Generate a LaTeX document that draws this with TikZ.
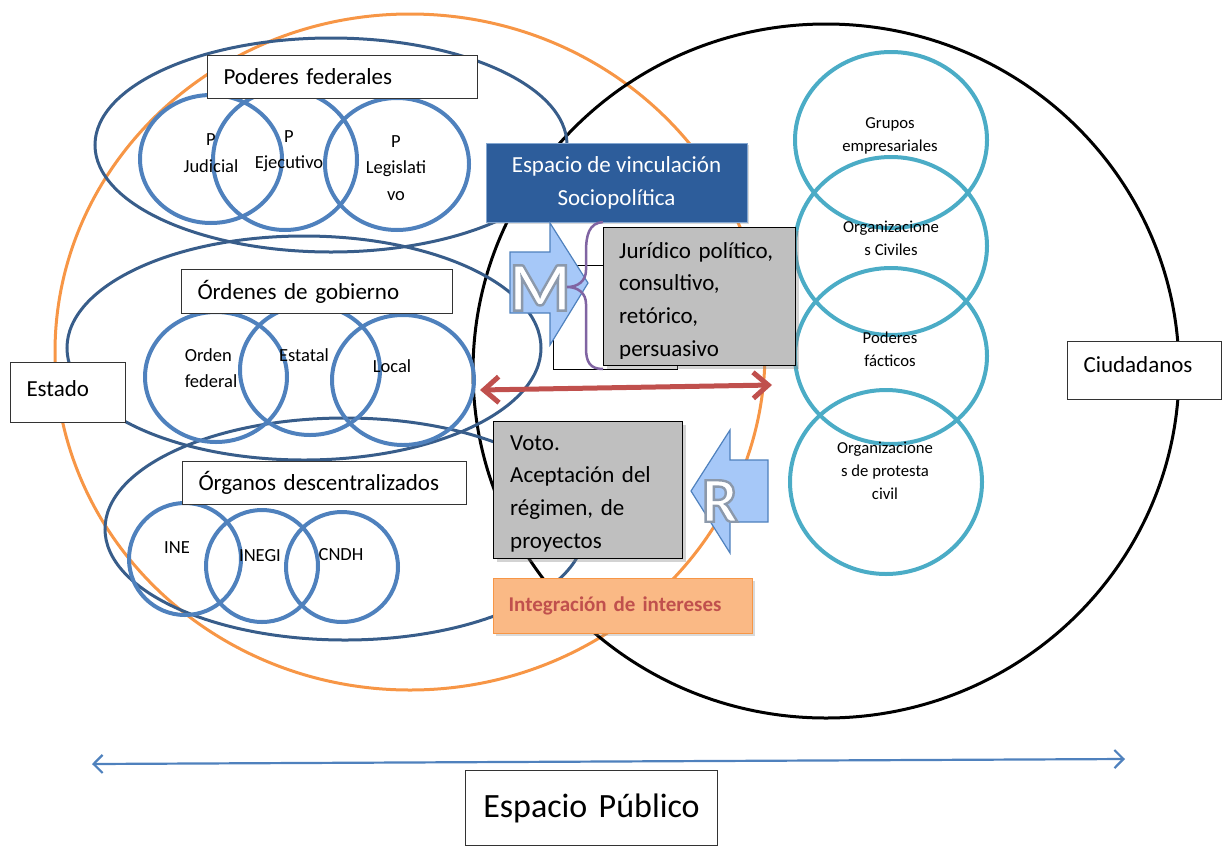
\documentclass[tikz,border=0pt]{standalone}
\usepackage{fontspec}
\setmainfont{Carlito}
\usetikzlibrary{arrows.meta,shadows}

\definecolor{ringorange}{HTML}{F79646}
\definecolor{groupblue}{HTML}{385D8A}
\definecolor{unitblue}{HTML}{4F81BD}
\definecolor{civcyan}{HTML}{4BACC6}
\definecolor{linkblue}{HTML}{2D5D9B}
\definecolor{boxgray}{HTML}{BFBFBF}
\definecolor{flowfill}{HTML}{A6C8F8}
\definecolor{flowred}{HTML}{C0504D}
\definecolor{bracepurple}{HTML}{8064A2}
\definecolor{mergefill}{HTML}{FAB985}

\newcommand\titlesize{\fontsize{23}{28}\selectfont}
\newcommand\unitsize{\fontsize{18.5}{26.5}\selectfont}
\newcommand\civsize{\fontsize{16.7}{23}\selectfont}
\newcommand\boxsize{\fontsize{23}{32.8}\selectfont}
\newcommand\publicsize{\fontsize{34}{40}\selectfont}
\newcommand\mergesize{\fontsize{21}{25}\selectfont\bfseries}
\newcommand\hollow[1]{{\color{white}\special{pdf:literal direct 2 Tr 2.4 w 0.55 0.6 0.67 RG}#1\special{pdf:literal direct 0 Tr 0.4 w}}}

\tikzset{
ring/.style={line width=3pt},
group/.style={draw=groupblue, line width=3pt},
unit/.style={draw=unitblue, line width=4pt},
civ/.style={draw=civcyan, line width=4pt},
titlebox/.style={draw=black!80, fill=white, line width=1pt, anchor=north west, inner xsep=16pt, inner ysep=0pt, align=left, font=\titlesize},
unittext/.style={inner sep=0pt, align=center, font=\unitsize},
civtext/.style={inner sep=0pt, align=center, font=\civsize},
graybox/.style={draw=black, fill=boxgray, line width=1pt, anchor=north west, inner sep=0pt, drop shadow={opacity=0.35, shadow xshift=3pt, shadow yshift=-3pt}},
boxtext/.style={anchor=base west, inner sep=0pt, align=left, text width=175pt, font=\boxsize},
linkbox/.style={fill=linkblue, draw=unitblue!70!white, line width=1pt, text=white, align=center, font=\boxsize, drop shadow={opacity=0.3, shadow xshift=2pt, shadow yshift=-2pt}},
flowarrow/.style={fill=flowfill, draw=unitblue, line width=1.2pt, line join=miter},
bigletter/.style={inner sep=0pt, font=\bfseries\fontsize{70}{70}\selectfont},
mergebox/.style={anchor=north west, fill=mergefill, draw=ringorange, line width=1.2pt, inner xsep=15pt, align=left, text=flowred, font=\mergesize, drop shadow={opacity=0.3, shadow xshift=2pt, shadow yshift=-2pt}}
}

\begin{document}
\begin{tikzpicture}[x=1pt, y=-1pt]
\useasboundingbox (0,0) rectangle (1222,846);

% public space: state and citizens
\draw[ring, ringorange] (410,352) ellipse [x radius=355, y radius=338];
\draw[ring, black] (826,371) ellipse [x radius=353, y radius=347];
\draw[group] (331,145) ellipse [x radius=236, y radius=107];
\draw[group] (304,348) ellipse [x radius=237, y radius=112];
\draw[group] (345,529) ellipse [x radius=240, y radius=111];
\foreach \cx/\cy/\rx/\ry in {211/159/71/64, 285/160/72/70, 397/164/72/66, 216/377/71/65, 310/370/70/65, 403/380/71/65, 185/559/56/56, 262/566/56/56, 342/567/56/55}
  \draw[unit] (\cx,\cy) ellipse [x radius=\rx, y radius=\ry];
\foreach \cx/\cy/\rx/\ry in {891/140/96/88, 891/246/96/89, 891/356/96/88, 886/482/96/92}
  \draw[civ] (\cx,\cy) ellipse [x radius=\rx, y radius=\ry];

\node[titlebox, text width=238pt, minimum height=43pt] (poderes) at (207,55) {Poderes federales};
\node[titlebox, text width=239pt, minimum height=44pt] (ordenes) at (181,269) {Órdenes de gobierno};
\node[titlebox, text width=252pt, minimum height=43pt] (organos) at (182,461) {Órganos descentralizados};
\node[titlebox, text width=83pt, minimum height=60pt, text depth=8pt] (estado) at (10,362) {Estado};
\node[titlebox, text width=122pt, minimum height=58pt, text depth=12pt] (ciudadanos) at (1067,341) {Ciudadanos};
\node[titlebox, align=center, text width=220pt, minimum height=75pt, font=\publicsize] (publico) at (465,770) {Espacio Público};

\node[unittext] (pjudicial) at (211,153) {P\\Judicial};
\node[unittext] (pejecutivo) at (289,151) {P\\Ejecutivo};
\node[unittext] (plegislativo) at (396,168) {P\\Legislati\\vo};
\node[unittext, align=left] (ofederal) at (211,368) {Orden\\federal};
\node[unittext] (estatal) at (304,355) {Estatal};
\node[unittext] (local) at (392,366) {Local};
\node[unittext] (ine) at (177,548) {INE};
\node[unittext] (inegi) at (260,556) {INEGI};
\node[unittext] (cndh) at (341,555) {CNDH};

\node[civtext] (grupos) at (890,136) {Grupos\\empresariales};
\node[civtext] (orgciviles) at (891,238) {Organizacione\\s Civiles};
\node[civtext] (facticos) at (890,349) {Poderes\\fácticos};
\node[civtext] (protesta) at (885,471) {Organizacione\\s de protesta\\civil};

% linkage space
\node[linkbox, minimum width=261pt, minimum height=79pt] (vinculo) at (616.5,182.5) {Espacio de vinculación\\Sociopolítica};
\node[draw=black, fill=white, line width=1pt, anchor=north west, inner sep=0pt, minimum width=124pt, minimum height=104pt] (blank) at (553,265) {};
\draw[flowarrow] (510,252) -- (550,252) -- (550,223) -- (588,283) -- (550,345) -- (550,313) -- (510,313) -- cycle;
\node[bigletter] (mletter) at (540,288) {\hollow{M}};

\node[graybox, minimum width=192pt, minimum height=138pt] (juridico) at (603,227) {};
\begin{scope}
\clip (juridico.north west) rectangle ([yshift=8pt]juridico.south east);
\node[boxtext] (juridicotext) at ([xshift=16pt, yshift=-31pt]juridico.north west) {Jurídico político,\\consultivo,\\retórico,\\persuasivo};
\end{scope}
\draw[bracepurple, line width=2.5pt] (603,222) .. controls (589,223) and (586,235) .. (586,252) -- (586,270) .. controls (586,281) and (578,287) .. (567,287) .. controls (578,287) and (586,293) .. (586,304) -- (586,348) .. controls (586,362) and (590,369) .. (603,369);

\coordinate (redL) at (480,390);
\coordinate (redR) at (772,385);
\draw[flowred, line width=5pt, {Straight Barb[length=15pt,width=26pt]}-{Straight Barb[length=15pt,width=26pt]}] (redL) -- (redR);

\node[graybox, minimum width=189pt, minimum height=137pt] (voto) at (493,421) {};
\begin{scope}
\clip (voto.north west) rectangle ([yshift=7pt]voto.south east);
\node[boxtext] (vototext) at ([xshift=17pt, yshift=-29pt]voto.north west) {Voto.\\Aceptación del\\régimen, de\\proyectos};
\end{scope}
\draw[flowarrow] (691,491) -- (730,430) -- (730,460) -- (768,460) -- (768,522) -- (730,522) -- (730,553) -- cycle;
\node[bigletter, font=\bfseries\fontsize{64}{64}\selectfont] (rletter) at (720,501) {\hollow{R}};

\node[mergebox, minimum height=55pt, text width=229pt] (integracion) at (493,578) {Integración de intereses};

\coordinate (pubL) at (92,764);
\coordinate (pubR) at (1125,759);
\draw[unitblue, line width=2.2pt, {Straight Barb[length=9pt,width=18pt]}-{Straight Barb[length=9pt,width=18pt]}] (pubL) -- (pubR);
\end{tikzpicture}
\end{document}
